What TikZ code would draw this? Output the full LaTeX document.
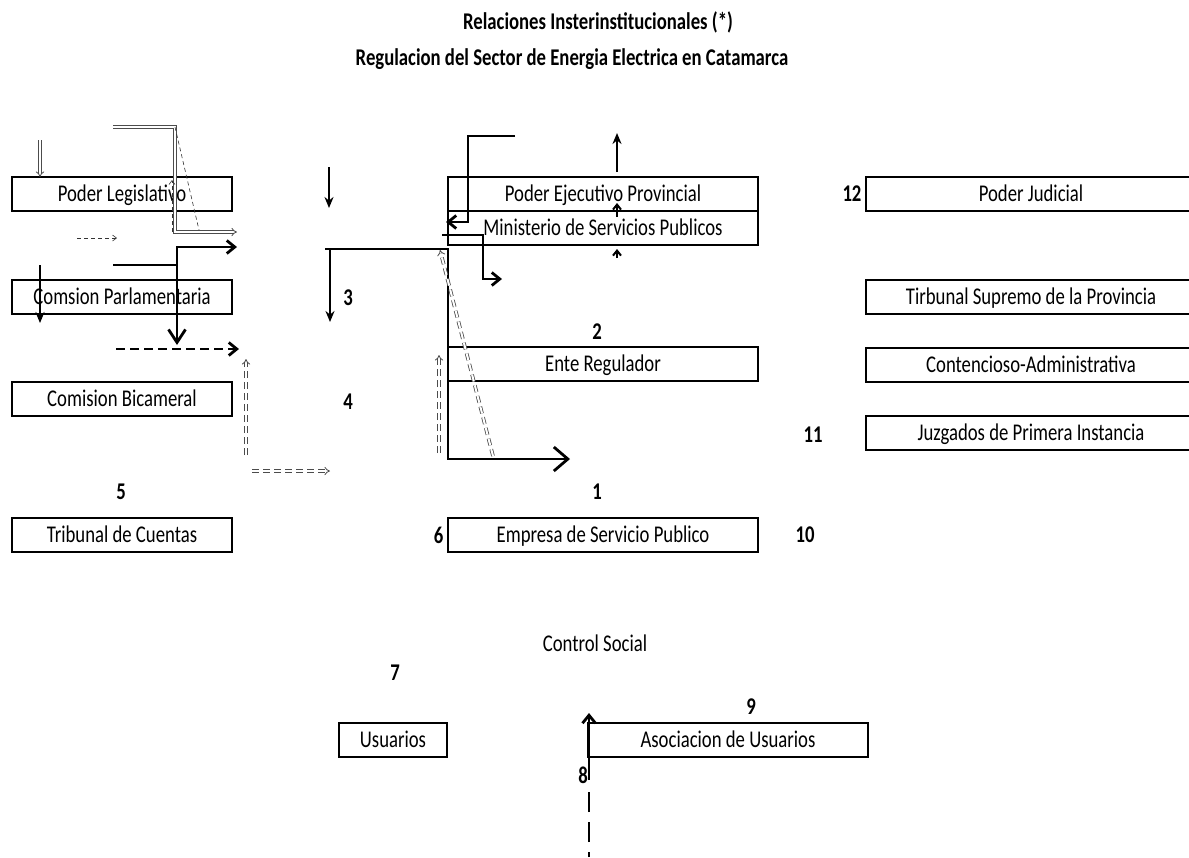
\documentclass[tikz,border=0pt]{standalone}
\usepackage{fontspec}
\setmainfont{Carlito}[FakeStretch=0.78]
\usetikzlibrary{arrows.meta, positioning}

\begin{document}
\begin{tikzpicture}[x=1pt, y=-1pt, font=\fontsize{24}{26}\selectfont,
  box/.style={draw, line width=2.8pt, inner sep=0pt, outer sep=0pt, minimum height=34pt,
    text height=15.2pt, text depth=0pt, anchor=north west},
  num/.style={font=\fontsize{24}{26}\selectfont\bfseries},
  thk/.style={line width=2.8pt},
  barb/.style={thk, -{Straight Barb[length=8pt, width=13pt]}},
  bigbarb/.style={thk, -{Straight Barb[length=14pt, width=24pt]}},
  stl/.style={line width=2.2pt, -{Stealth[length=11pt, width=9pt]}},
  dbl/.style={draw=black!70, double=white, line width=0.8pt, double distance=2pt, -{Implies}},
  dbldash/.style={dbl, dash pattern=on 7pt off 4pt},
  thindash/.style={draw=black!80, line width=0.6pt, dash pattern=on 4pt off 3pt},
  thkdash/.style={barb, dash pattern=on 9pt off 5pt}]
  \useasboundingbox (0,0) rectangle (1189,857);

  \node[num] (title1) at (598,22) {Relaciones Insterinstitucionales (*)};
  \node[num] (title2) at (572,59) {Regulacion del Sector de Energia Electrica en Catamarca};

  \node[box, minimum width=220pt] (leg) at (12,177) {Poder Legislativo};
  \node[box, minimum width=220pt] (parl) at (12,280) {Comsion Parlamentaria};
  \node[box, minimum width=220pt] (bicam) at (12,382) {Comision Bicameral};
  \node[box, minimum width=220pt] (tcuentas) at (12,518) {Tribunal de Cuentas};

  \node[box, minimum width=310pt] (ejec) at (448,177) {Poder Ejecutivo Provincial};
  \node[box, minimum width=310pt, below=0pt of ejec] (minist) {Ministerio de Servicios Publicos};
  \node[box, minimum width=310pt] (ente) at (448,347) {Ente Regulador};
  \node[box, minimum width=310pt] (empresa) at (448,518) {Empresa de Servicio Publico};

  \node[box, minimum width=330pt] (judicial) at (866,177) {Poder Judicial};
  \node[box, minimum width=330pt] (supremo) at (866,280) {Tirbunal Supremo de la Provincia};
  \node[box, minimum width=330pt] (contencioso) at (866,348) {Contencioso-Administrativa};
  \node[box, minimum width=330pt] (juzgados) at (866,416) {Juzgados de Primera Instancia};

  \node (ctrl) at (595,643) {Control Social};
  \node[box, minimum width=108pt] (usuarios) at (339,723) {Usuarios};
  \node[box, minimum width=280pt] (asoc) at (588,723) {Asociacion de Usuarios};

  \node[num] (n1) at (597,492) {1};
  \node[num] (n2) at (597,332) {2};
  \node[num] (n3) at (348,298) {3};
  \node[num] (n4) at (348,402) {4};
  \node[num] (n5) at (121,492) {5};
  \node[num, left=1pt of empresa] (n6) {6};
  \node[num] (n7) at (395,673) {7};
  \node[num] (n8) at (583,775) {8};
  \node[num] (n9) at (751,707) {9};
  \node[num] (n10) at (805,535) {10};
  \node[num] (n11) at (813,435) {11};
  \node[num, left=1pt of judicial] (n12) {12};

  \coordinate (d1) at (40,140);
  \coordinate (d2) at (113,127);
  \coordinate (d3) at (175,232);
  \coordinate (d4) at (237,232);
  \draw[dbl] (d1) -- (d1 |- leg.north);
  \draw[dbl] (d2) -| (d3) -- (d4);
  \draw[thindash, -{Straight Barb[length=4pt, width=6pt]}] (172,232) -- (172,180);
  \draw[thindash] (175,127) -- (199,230);
  \draw[thindash, -{Straight Barb[length=4pt, width=6pt]}] (77,238) -- (117,238);

  \coordinate (e1) at (113,265);
  \coordinate (e2) at (237,247);
  \draw[barb] (e1) -- (177,265) |- (e2);
  \draw[stl] (40,265) -- (40,323);
  \draw[thk, -{Straight Barb[length=13pt, width=17pt]}] (177,265) -- (177,345);
  \draw[thkdash] (116,349) -- (239,349);
  \draw[dbldash] (246,455) -- (246,359);
  \draw[dbldash] (252,471) -- (330,471);

  \coordinate (m1) at (325,249);
  \coordinate (m2) at (570,459);
  \draw[stl] (329,167) -- (329,208);
  \draw[bigbarb] (m1) -- (m1 -| ente.west) -- (ente.west |- m2) -- (m2);
  \draw[stl] (330,249) -- (330,322);
  \draw[dbldash] (439,453) -- (439,355);
  \draw[dbldash] (493,456) -- (440,250);

  \coordinate (q1) at (515,136);
  \coordinate (q2) at (446,222);
  \coordinate (r1) at (442,235);
  \coordinate (r2) at (502,279);
  \draw[barb] (q1) -- (468,136) |- (q2);
  \draw[barb] (r1) -- (483,235) |- (r2);
  \draw[stl] (617,172) -- (617,133);
  \draw[line width=2pt, -{Straight Barb[length=5pt, width=8pt]}] (617,217) -- (617,203);
  \draw[line width=2pt, -{Straight Barb[length=5pt, width=8pt]}] (617,258) -- (617,249);

  \coordinate (v1) at (589,857);
  \coordinate (v2) at (589,713);
  \draw[barb, dash pattern=on 5pt off 10pt on 20pt off 10pt on 20pt off 12pt on 80pt] (v1) -- (v2);
\end{tikzpicture}
\end{document}
